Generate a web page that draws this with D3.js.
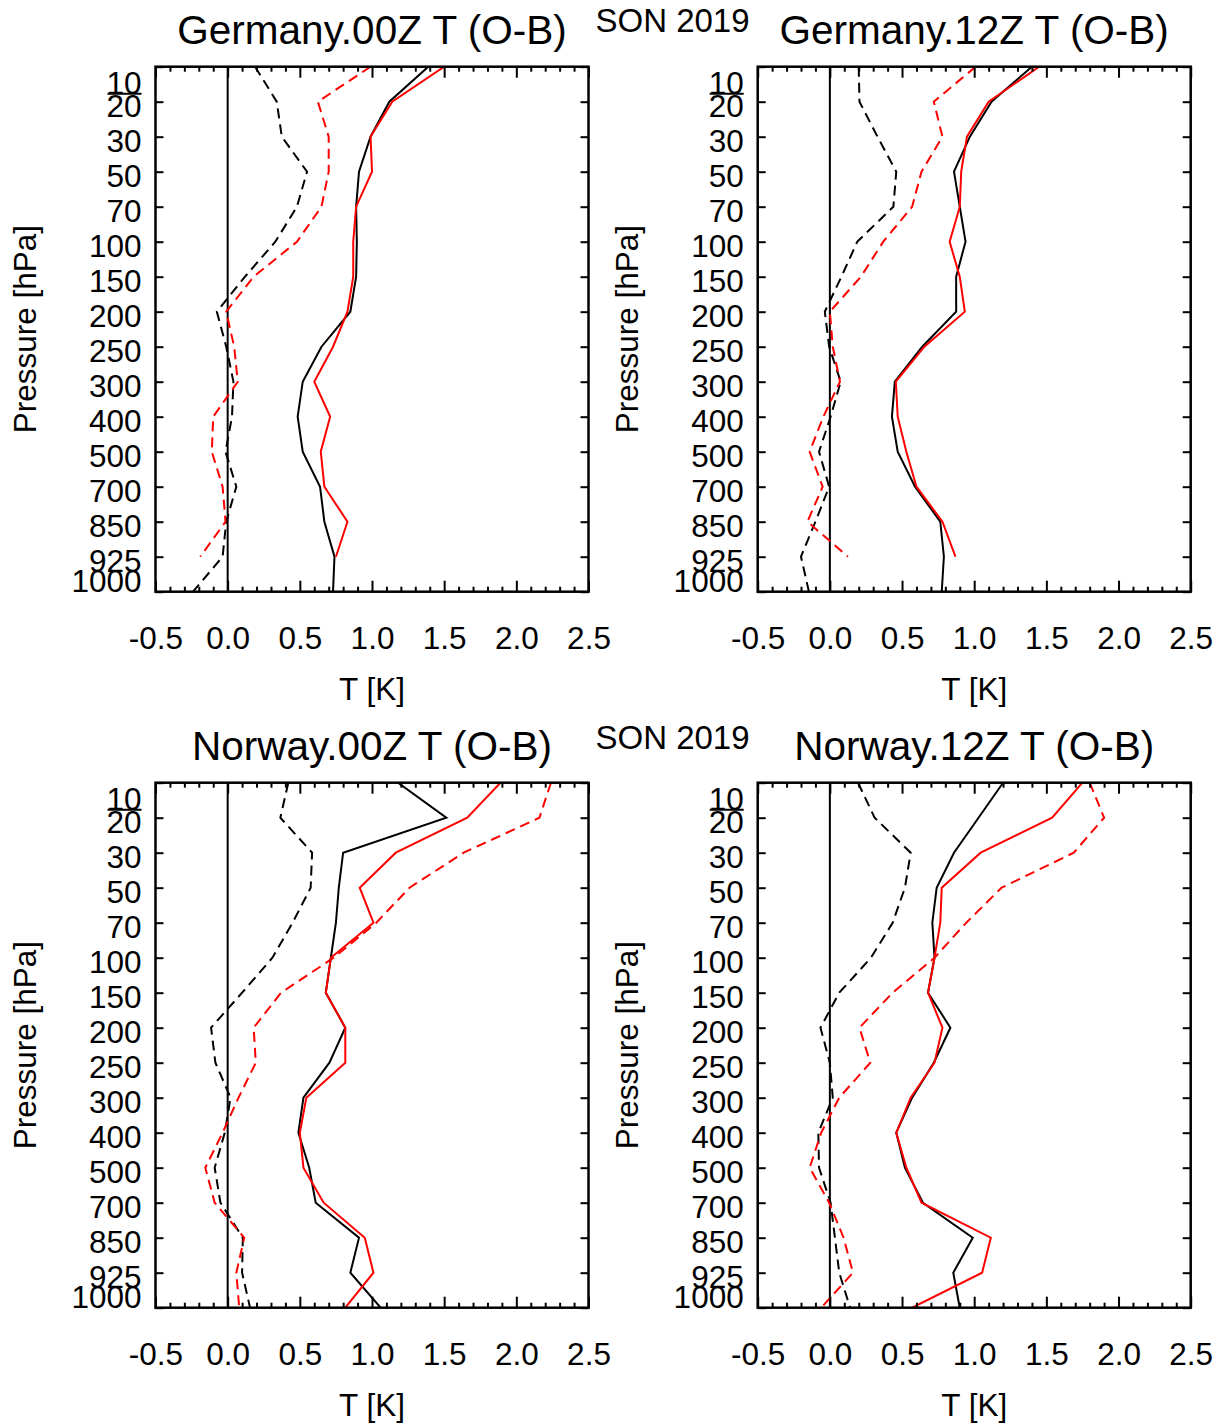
<!DOCTYPE html>
<html lang="en">
<head>
<meta charset="UTF-8">
<title>T (O-B) profiles SON 2019</title>
<style>
  body { margin: 0; background: #fff; }
  svg text { font-family: "Liberation Sans", Arial, sans-serif; fill: #000; }
</style>
</head>
<body>
<svg id="chart" width="1223" height="1424"></svg>
<script src="https://d3js.org/d3.v7.min.js"></script>
<script>
// pressure levels (hPa), top to bottom
const levels = [10, 20, 30, 50, 70, 100, 150, 200, 250, 300, 400, 500, 700, 850, 925, 1000];
const xMajor = [-0.5, 0, 0.5, 1, 1.5, 2, 2.5];
const season = "SON 2019";

// Germany 00Z
const ger00StdBlack  = [1.39, 1.12, 0.99, 0.91, 0.89, 0.895, 0.89, 0.85, 0.65, 0.52, 0.485, 0.52, 0.64, 0.67, 0.74, 0.73];
const ger00StdRed    = [1.50, 1.14, 0.99, 1.00, 0.89, 0.87, 0.87, 0.83, 0.73, 0.60, 0.71, 0.645, 0.67, 0.83, 0.75, null];
const ger00BiasBlack = [0.19, 0.34, 0.375, 0.55, 0.48, 0.33, 0.12, -0.075, -0.01, 0.04, 0.03, -0.015, 0.06, -0.01, -0.035, -0.24];
const ger00BiasRed   = [0.99, 0.625, 0.70, 0.70, 0.65, 0.48, 0.18, -0.01, 0.045, 0.07, -0.10, -0.11, -0.035, -0.015, -0.19, null];

// Germany 12Z
const ger12StdBlack  = [1.40, 1.12, 0.97, 0.86, 0.90, 0.94, 0.875, 0.875, 0.64, 0.45, 0.43, 0.47, 0.59, 0.765, 0.79, 0.775];
const ger12StdRed    = [1.45, 1.10, 0.95, 0.91, 0.90, 0.83, 0.90, 0.935, 0.655, 0.457, 0.47, 0.53, 0.60, 0.78, 0.87, null];
const ger12BiasBlack = [0.20, 0.205, 0.33, 0.46, 0.44, 0.19, 0.08, -0.035, -0.005, 0.075, 0.005, -0.075, -0.005, -0.10, -0.20, -0.145];
const ger12BiasRed   = [1.01, 0.72, 0.78, 0.635, 0.57, 0.37, 0.215, 0.00, 0.02, 0.07, -0.045, -0.14, -0.05, -0.155, 0.125, null];

// Norway 00Z
const nor00StdBlack  = [1.18, 1.515, 0.80, 0.77, 0.75, 0.715, 0.68, 0.815, 0.705, 0.525, 0.49, 0.565, 0.61, 0.91, 0.85, 1.06];
const nor00StdRed    = [1.89, 1.66, 1.165, 0.915, 1.01, 0.715, 0.68, 0.815, 0.815, 0.545, 0.50, 0.525, 0.665, 0.95, 1.01, 0.815];
const nor00BiasBlack = [0.42, 0.365, 0.585, 0.575, 0.45, 0.31, 0.10, -0.115, -0.085, 0.02, -0.02, -0.09, -0.05, 0.105, 0.10, 0.155];
const nor00BiasRed   = [2.24, 2.16, 1.635, 1.26, 1.03, 0.735, 0.37, 0.18, 0.195, 0.075, -0.035, -0.155, -0.09, 0.115, 0.06, 0.08];

// Norway 12Z
const nor12StdBlack  = [1.20, 1.03, 0.86, 0.74, 0.71, 0.725, 0.68, 0.835, 0.72, 0.57, 0.46, 0.52, 0.645, 0.99, 0.855, 0.90];
const nor12StdRed    = [1.75, 1.54, 1.045, 0.775, 0.765, 0.725, 0.68, 0.78, 0.725, 0.56, 0.46, 0.53, 0.635, 1.115, 1.055, 0.57];
const nor12BiasBlack = [0.195, 0.31, 0.56, 0.52, 0.435, 0.285, 0.065, -0.065, 0.0, 0.02, -0.08, -0.075, 0.005, 0.035, 0.065, 0.14];
const nor12BiasRed   = [1.80, 1.90, 1.69, 1.19, 0.945, 0.725, 0.435, 0.205, 0.28, 0.065, -0.06, -0.14, -0.005, 0.095, 0.16, -0.06];

const panels = [
    {title: "Germany.00Z T (O-B)", left: 155.5, top: 66.7,
     lines: [ger00BiasBlack, ger00BiasRed, ger00StdBlack, ger00StdRed]},
    {title: "Germany.12Z T (O-B)", left: 757.7, top: 66.7,
     lines: [ger12BiasBlack, ger12BiasRed, ger12StdBlack, ger12StdRed]},
    {title: "Norway.00Z T (O-B)", left: 155.5, top: 782.7,
     lines: [nor00BiasBlack, nor00BiasRed, nor00StdBlack, nor00StdRed]},
    {title: "Norway.12Z T (O-B)", left: 757.7, top: 782.7,
     lines: [nor12BiasBlack, nor12BiasRed, nor12StdBlack, nor12StdRed]}
];
const lineStyles = [
    {color: "#000", dash: "10,6"},
    {color: "#f00", dash: "10,6"},
    {color: "#000", dash: null},
    {color: "#f00", dash: null}
];

const plotW = 433, plotH = 525;
const svg = d3.select("#chart");

// season labels between the panel titles
[32.3, 749.3].forEach(yy => {
    svg.append("text")
        .attr("x", 672.5).attr("y", yy)
        .attr("text-anchor", "middle")
        .style("font-size", "33px")
        .text(season);
});

panels.forEach(drawPanel);

function drawPanel(p) {
    var x = d3.scaleLinear().domain([-0.5, 2.5]).range([p.left, p.left + plotW]),
        y = d3.scalePoint().domain(levels).range([p.top, p.top + plotH]).padding(0),
        g = svg.append("g");

    // zero line
    g.append("line")
        .attr("x1", x(0)).attr("x2", x(0))
        .attr("y1", p.top).attr("y2", p.top + plotH)
        .attr("stroke", "#000").attr("stroke-width", 2);

    var line = d3.line()
        .defined(d => d.v != null)
        .x(d => x(d.v))
        .y(d => y(d.p));

    var clipId = "clip" + Math.round(p.left) + "_" + Math.round(p.top);
    g.append("clipPath").attr("id", clipId)
        .append("rect")
        .attr("x", p.left).attr("y", p.top)
        .attr("width", plotW).attr("height", plotH);

    p.lines.forEach((vals, i) => {
        var st = lineStyles[i];
        g.append("path")
            .datum(levels.map((lev, k) => ({p: lev, v: vals[k]})))
            .attr("clip-path", "url(#" + clipId + ")")
            .attr("fill", "none")
            .attr("stroke", st.color)
            .attr("stroke-width", 2)
            .attr("stroke-dasharray", st.dash)
            .attr("d", line);
    });

    var minor = d3.range(-5, 26).map(k => k / 10).filter(v => Math.abs(v * 2 - Math.round(v * 2)) > 1e-6);

    // x axes: bottom with labels, top without
    var bottom = g.append("g").attr("transform", `translate(0,${p.top + plotH})`);
    bottom.call(d3.axisBottom(x).tickValues(xMajor).tickSizeInner(-11).tickSizeOuter(0)
        .tickPadding(35).tickFormat(d => d.toFixed(1)));
    bottom.append("g").call(d3.axisBottom(x).tickValues(minor).tickSizeInner(-5).tickSizeOuter(0).tickFormat(""));

    var top = g.append("g").attr("transform", `translate(0,${p.top})`);
    top.call(d3.axisTop(x).tickValues(xMajor).tickSizeInner(-11).tickSizeOuter(0).tickFormat(""));
    top.append("g").call(d3.axisTop(x).tickValues(minor).tickSizeInner(-5).tickSizeOuter(0).tickFormat(""));

    // y axes: left with labels, right without
    var leftAx = g.append("g").attr("transform", `translate(${p.left},0)`);
    leftAx.call(d3.axisLeft(y).tickSizeInner(-8).tickSizeOuter(0).tickPadding(14));
    leftAx.selectAll(".tick text")
        .attr("dy", null)
        .attr("y", d => d === 10 ? 26.5 : (d === 1000 ? 0 : 15));

    var rightAx = g.append("g").attr("transform", `translate(${p.left + plotW},0)`);
    rightAx.call(d3.axisRight(y).tickSizeInner(-8).tickSizeOuter(0).tickFormat(""));

    g.selectAll(".domain").remove();
    g.selectAll(".tick line").attr("stroke", "#000").attr("stroke-width", 2);
    g.selectAll(".tick text")
        .attr("font-family", null).attr("fill", "#000")
        .style("font-size", "31.5px");
    g.selectAll("g").attr("font-family", null).attr("font-size", null);

    // odd underline under the "10" label, as in the original
    g.append("line")
        .attr("x1", p.left - 48).attr("x2", p.left - 14)
        .attr("y1", p.top + 27).attr("y2", p.top + 27)
        .attr("stroke", "#000").attr("stroke-width", 2);

    // frame
    g.append("rect")
        .attr("x", p.left).attr("y", p.top)
        .attr("width", plotW).attr("height", plotH)
        .attr("fill", "none").attr("stroke", "#000").attr("stroke-width", 2.5);

    // titles
    g.append("text")
        .attr("x", p.left + plotW / 2).attr("y", p.top - 23.2)
        .attr("text-anchor", "middle")
        .style("font-size", "40.5px")
        .text(p.title);

    g.append("text")
        .attr("x", p.left + plotW / 2).attr("y", p.top + plotH + 108)
        .attr("text-anchor", "middle")
        .style("font-size", "31.5px")
        .text("T [K]");

    g.append("text")
        .attr("transform", `translate(${p.left - 120},${p.top + plotH / 2}) rotate(-90)`)
        .attr("text-anchor", "middle")
        .style("font-size", "31.5px")
        .text("Pressure [hPa]");
}
</script>
</body>
</html>
